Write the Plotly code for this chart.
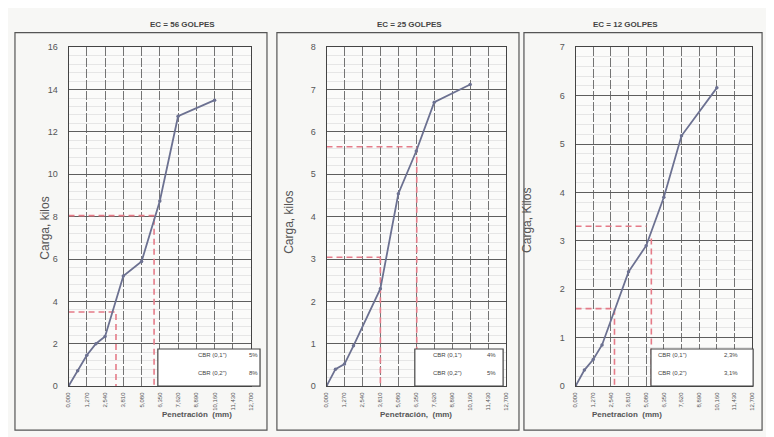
import plotly.graph_objects as go

# ---------------- data ----------------
x_ticks = [0.0, 1.27, 2.54, 3.81, 5.08, 6.35, 7.62, 8.89, 10.16, 11.43, 12.70]
x_tick_labels = ["0,000", "1,270", "2,540", "3,810", "5,080", "6,350",
                 "7,620", "8,890", "10,160", "11,430", "12,700"]

titles = ["EC = 56 GOLPES", "EC = 25 GOLPES", "EC = 12 GOLPES"]
y_titles = ["Carga, kilos", "Carga, kilos", "Carga, Kilos"]
x_titles = ["Penetración  (mm)", "Penetración,  (mm)", "Penetracion  (mm)"]
y_max = [16, 8, 7]
y_step = [2, 1, 1]

pen_56 = [0.0, 0.635, 1.27, 1.905, 2.54, 3.81, 5.08, 6.35, 7.62, 10.16]
load_56 = [0.0, 0.72, 1.46, 2.0, 2.34, 5.2, 5.88, 8.74, 12.74, 13.5]

pen_25 = [0.0, 0.635, 1.27, 1.905, 3.81, 5.08, 6.35, 7.62, 10.16]
load_25 = [0.0, 0.4, 0.52, 0.95, 2.3, 4.54, 5.55, 6.7, 7.12]

pen_12 = [0.0, 0.635, 1.27, 1.905, 3.81, 5.08, 6.35, 7.62, 10.16]
load_12 = [0.0, 0.33, 0.55, 0.85, 2.36, 2.9, 3.9, 5.17, 6.16]

# CBR read-off guides: (x of vertical, y of horizontal, x end of horizontal, y start of vertical)
guide_56 = [(3.3, 3.5, 3.25, 3.4), (5.95, 8.05, 6.0, 7.9)]
guide_25 = [(3.81, 3.04, 3.81, 3.04), (6.38, 5.65, 6.38, 5.65)]
guide_12 = [(2.8, 1.6, 2.75, 1.6), (5.45, 3.3, 5.1, 3.05)]

cbr_labels = ['CBR (0,1")', 'CBR (0,2")']
cbr_56 = ["5%", "8%"]
cbr_25 = ["4%", "5%"]
cbr_12 = ["2,3%", "3,1%"]

series = [(pen_56, load_56, guide_56, cbr_56),
          (pen_25, load_25, guide_25, cbr_25),
          (pen_12, load_12, guide_12, cbr_12)]

# ---------------- layout (page pixels) ----------------
OFF = 8                      # body margin of the page
W, H = 774 - OFF, 437 - OFF  # figure size so page fits the window exactly
plot_x = [(66, 250), (326, 507), (577, 755)]
plot_y = (43, 390)
panels = [(12, 266), (276, 520), (525, 765)]
panel_y = (28, 435)
legend_box = [(156, 259), (415, 504), (653, 756)]
legend_y = (352, 390)
title_x = [146, 410, 662]
ytitle_x = [33, 288, 537]
ytitle_y = [228, 222, 220]


def px(x):
    return (x - OFF) / W


def py(y):
    return 1 - (y - OFF) / H


LINE = "#6c7191"
RED = "#e57b88"
GRID = "#747474"

fig = go.Figure()
shapes = []
annotations = []

for i, (pen, load, guides, cbr) in enumerate(series):
    ax = "" if i == 0 else str(i + 1)
    xa, ya = "x" + ax, "y" + ax

    for (xv, yh, xh_end, yv_start) in guides:
        fig.add_trace(go.Scatter(x=[0, xh_end], y=[yh, yh], mode="lines",
                                 line=dict(color=RED, width=1.6, dash="6px,4px"),
                                 xaxis=xa, yaxis=ya, showlegend=False, hoverinfo="skip"))
        fig.add_trace(go.Scatter(x=[xv, xv], y=[yv_start, 0], mode="lines",
                                 line=dict(color=RED, width=1.6, dash="6px,4px"),
                                 xaxis=xa, yaxis=ya, showlegend=False, hoverinfo="skip"))

    fig.add_trace(go.Scatter(x=pen, y=load, mode="lines+markers",
                             line=dict(color=LINE, width=1.8),
                             marker=dict(color=LINE, size=3.5),
                             xaxis=xa, yaxis=ya, showlegend=False))

    x0, x1 = plot_x[i]
    common = dict(showline=True, linecolor="#444", linewidth=1, mirror=True,
                  zeroline=False, ticks="")
    fig.layout["xaxis" + ax] = dict(
        domain=[px(x0), px(x1)], range=[0, 12.7], anchor=ya,
        tickmode="array", tickvals=x_ticks, ticktext=x_tick_labels,
        tickangle=-90, tickfont=dict(size=6, color="#555", family="Arial"),
        showgrid=True, gridcolor=GRID, gridwidth=1, griddash="9px,2px",
        ticklabelstandoff=3,
        **common)
    fig.layout["yaxis" + ax] = dict(
        domain=[py(plot_y[1]), py(plot_y[0])], range=[0, y_max[i]], anchor=xa,
        dtick=y_step[i], tickfont=dict(size=9, color="#555", family="Arial"),
        showgrid=True, gridcolor="#5e5e5e", gridwidth=1,
        minor=dict(dtick=y_step[i] / 5, showgrid=True, gridcolor="#e6e6e6", gridwidth=1),
        ticklabelstandoff=8,
        **common)

    # panel border
    shapes.append(dict(type="rect", xref="paper", yref="paper",
                       x0=px(panels[i][0]), x1=px(panels[i][1]),
                       y0=py(panel_y[1]), y1=py(panel_y[0]),
                       line=dict(color="#555", width=1.2)))
    # CBR box
    lb0, lb1 = legend_box[i]
    shapes.append(dict(type="rect", xref="paper", yref="paper",
                       x0=px(lb0), x1=px(lb1), y0=py(legend_y[1]), y1=py(legend_y[0]),
                       fillcolor="white", line=dict(color="#444", width=1.2)))
    for r in range(2):
        yy = legend_y[0] + (legend_y[1] - legend_y[0]) * (0.3 + 0.47 * r)
        annotations.append(dict(xref="paper", yref="paper", x=px(lb0 + (lb1 - lb0) * 0.37),
                                y=py(yy), text=cbr_labels[r], showarrow=False,
                                font=dict(size=6, color="#444", family="Arial")))
        annotations.append(dict(xref="paper", yref="paper", x=px(lb0 + (lb1 - lb0) * 0.87),
                                y=py(yy), text=cbr[r], showarrow=False,
                                font=dict(size=6, color="#444", family="Arial")))

    # titles
    annotations.append(dict(xref="paper", yref="paper", x=px(title_x[i]), y=py(13),
                            text="<b>" + titles[i] + "</b>", showarrow=False,
                            font=dict(size=8, color="#444", family="Arial")))
    annotations.append(dict(xref="paper", yref="paper", x=px(ytitle_x[i]), y=py(ytitle_y[i]),
                            text=y_titles[i], textangle=-90, showarrow=False,
                            font=dict(size=12, color="#555", family="Arial")))
    annotations.append(dict(xref="paper", yref="paper", x=px((x0 + x1) / 2), y=py(426),
                            text="<b>" + x_titles[i] + "</b>", showarrow=False,
                            font=dict(size=8, color="#555", family="Arial")))

fig.update_layout(width=W, height=H, autosize=False, margin=dict(l=0, r=0, t=0, b=0),
                  paper_bgcolor="#f7f7f5", plot_bgcolor="#fbfbfa",
                  shapes=shapes, annotations=annotations, showlegend=False)

fig.write_html("out.html")
